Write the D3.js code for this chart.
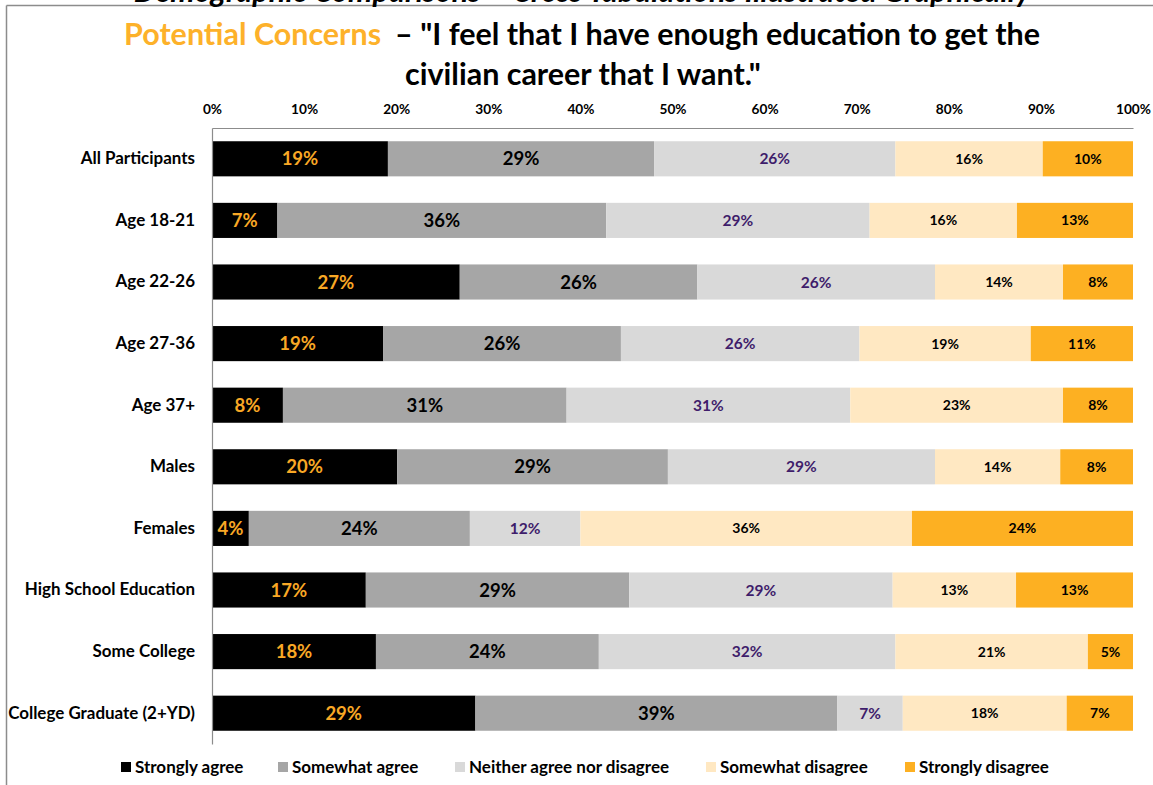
<!DOCTYPE html>
<html>
<head>
<meta charset="utf-8">
<script src="https://cdn.jsdelivr.net/npm/d3@7"></script>
<style>
  html, body { margin: 0; padding: 0; background: #fff; }
  svg { display: block; font-family: Lato, "Open Sans", "DejaVu Sans", sans-serif; }
</style>
</head>
<body>
<svg id="chart" width="1153" height="785"></svg>
<script>
// Survey groups, top to bottom
const categories = [
  "All Participants", "Age 18-21", "Age 22-26", "Age 27-36", "Age 37+",
  "Males", "Females", "High School Education", "Some College", "College Graduate (2+YD)"
];

// Response options (stack order, left to right)
const responses = [
  "Strongly agree", "Somewhat agree", "Neither agree nor disagree",
  "Somewhat disagree", "Strongly disagree"
];

// Share of each group (%) per response
const stronglyAgree    = [19.1,  7.1, 26.9, 18.6,  7.7, 20.1,  4.0, 16.7, 17.8, 28.6];
const somewhatAgree    = [28.9, 35.7, 25.8, 25.8, 30.8, 29.4, 24.0, 28.6, 24.2, 39.3];
const neither          = [26.2, 28.6, 25.8, 25.9, 30.8, 29.0, 12.0, 28.6, 32.2,  7.1];
const somewhatDisagree = [16.0, 16.0, 13.9, 18.6, 23.1, 13.6, 36.0, 13.4, 20.9, 17.8];
const stronglyDisagree = [ 9.8, 12.6,  7.6, 11.1,  7.6,  7.9, 24.0, 12.7,  4.9,  7.2];

const xTicks = [0, 10, 20, 30, 40, 50, 60, 70, 80, 90, 100];

const seriesValues = [stronglyAgree, somewhatAgree, neither, somewhatDisagree, stronglyDisagree];
const fills      = ["#000000", "#A6A6A6", "#D9D9D9", "#FFE8C2", "#FDB022"];
const labelColor = ["#F9A825", "#000000", "#3F1D6B", "#000000", "#000000"];
const labelSize  = [18.5, 18.5, 15.5, 14, 14];

const rows = categories.map((c, i) => {
  const r = { category: c };
  responses.forEach((k, j) => { r[k] = seriesValues[j][i]; });
  return r;
});

const svg = d3.select("#chart");

// Scale a text's font size so that it spans the given width
function fitWidth(sel, width) {
  const size = parseFloat(sel.attr("font-size"));
  const w = sel.node().getComputedTextLength();
  const s = size * width / w;
  sel.attr("font-size", s);
  return s;
}

// Slide frame
svg.append("line").attr("x1", 6.5).attr("x2", 1153).attr("y1", 5.5).attr("y2", 5.5)
  .attr("stroke", "#8c8c8c").attr("stroke-width", 1.5);
svg.append("line").attr("x1", 6.5).attr("x2", 6.5).attr("y1", 5.5).attr("y2", 785)
  .attr("stroke", "#8c8c8c").attr("stroke-width", 1.5);

// Slide heading running off the top edge
const heading = svg.append("text")
  .attr("x", 582).attr("y", 1.5)
  .attr("text-anchor", "middle")
  .attr("font-size", 28).attr("font-weight", 700).attr("font-style", "italic")
  .attr("fill", "#000")
  .text("Demographic Comparisons – Cross Tabulations Illustrated Graphically");
fitWidth(heading, 897);

// Title
const t1 = svg.append("text")
  .attr("x", 582).attr("y", 45)
  .attr("text-anchor", "middle")
  .attr("font-size", 28).attr("font-weight", 700);
t1.append("tspan").attr("fill", "#FDB12A").text("Potential Concerns");
t1.append("tspan").attr("fill", "#000").attr("dx", 14).text("– \"I feel that I have enough education to get the");
const titleSize = fitWidth(t1, 902);
svg.append("text")
  .attr("x", 583).attr("y", 85)
  .attr("text-anchor", "middle")
  .attr("font-size", titleSize).attr("font-weight", 700).attr("fill", "#000")
  .text("civilian career that I want.\"");

// Scales
const x = d3.scaleLinear().domain([0, 100]).range([212, 1133]);
const y = d3.scaleBand().domain(categories).range([128, 744]).paddingInner(0.43).paddingOuter(0.215);

const stack = d3.stack().keys(responses);
const layers = stack(rows);

// Bars and their percentage labels
const g = svg.append("g");
layers.forEach((layer, j) => {
  g.append("g").selectAll("rect")
    .data(layer)
    .join("rect")
    .attr("x", d => x(d[0]))
    .attr("y", d => y(d.data.category))
    .attr("width", d => x(d[1]) - x(d[0]))
    .attr("height", y.bandwidth())
    .attr("fill", fills[j]);
  g.append("g").selectAll("text")
    .data(layer)
    .join("text")
    .attr("x", d => (x(d[0]) + x(d[1])) / 2)
    .attr("y", d => y(d.data.category) + y.bandwidth() / 2)
    .attr("dy", "0.36em")
    .attr("text-anchor", "middle")
    .attr("font-size", labelSize[j]).attr("font-weight", 700)
    .attr("fill", labelColor[j])
    .text(d => Math.round(d[1] - d[0]) + "%");
});

// Top percentage axis
const xAxis = svg.append("g").attr("transform", "translate(0,128)")
  .call(d3.axisTop(x).tickValues(xTicks).tickFormat(d => d + "%").tickSize(0).tickPadding(14))
  .attr("font-family", null).attr("font-size", null);
xAxis.select(".domain").attr("stroke", "#8c8c8c").attr("stroke-width", 1.2);
xAxis.selectAll("text").attr("font-size", 14).attr("font-weight", 700).attr("fill", "#000");
const tickSize = fitWidth(xAxis.selectAll("text").filter(d => d === 100), 35);
xAxis.selectAll("text").attr("font-size", tickSize);

// Category axis
const yAxis = svg.append("g").attr("transform", "translate(212,0)")
  .call(d3.axisLeft(y).tickSize(0).tickPadding(17))
  .attr("font-family", null).attr("font-size", null);
yAxis.select(".domain").attr("stroke", "#8c8c8c").attr("stroke-width", 1.2);
yAxis.selectAll("text").attr("font-size", 16).attr("font-weight", 700).attr("fill", "#000");
const catSize = fitWidth(yAxis.selectAll("text").filter(d => d === "College Graduate (2+YD)"), 187);
yAxis.selectAll("text").attr("font-size", catSize);

// Legend
const legendX = [121, 278, 455, 706, 905];
const legend = svg.append("g").selectAll("g")
  .data(responses)
  .join("g")
  .attr("transform", (d, i) => `translate(${legendX[i]},767)`);
legend.append("rect").attr("x", 0).attr("y", -5).attr("width", 10).attr("height", 10)
  .attr("fill", (d, i) => fills[i]);
legend.append("text").attr("x", 14).attr("dy", "0.36em")
  .attr("font-size", 17).attr("font-weight", 700).attr("fill", "#000")
  .text(d => d);
</script>
</body>
</html>
